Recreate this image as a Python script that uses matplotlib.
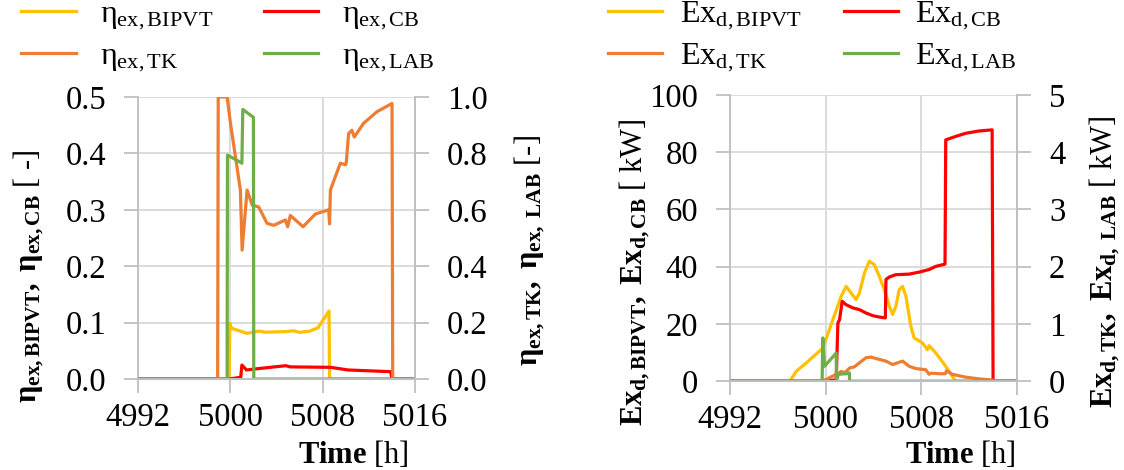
import numpy as np
import matplotlib
matplotlib.use('Agg')
import matplotlib.pyplot as plt

plt.rcParams['font.family'] = ['Liberation Serif', 'DejaVu Serif']
plt.rcParams['mathtext.fontset'] = 'custom'
plt.rcParams['mathtext.rm'] = 'Liberation Serif'
plt.rcParams['mathtext.it'] = 'Liberation Serif:italic'
plt.rcParams['mathtext.bf'] = 'Liberation Serif:bold'

# ---- exergy efficiency (left chart) ----
t_bipvt = [4992, 4999.9, 4999.95, 5000.1, 5001.45, 5002.46, 5003.0, 5004.7, 5005.5, 5006.0,
           5006.9, 5007.6, 5008.55, 5008.6, 5016]
eta_bipvt = [0, 0, 0.099, 0.090, 0.081, 0.085, 0.083, 0.084, 0.0855, 0.0827,
             0.085, 0.091, 0.1205, 0, 0]

t_cb = [4992, 4999.9, 5000.9, 5001.0, 5001.4, 5002.5, 5004.8, 5005.2, 5008.7, 5010.2, 5013.9, 5014.0, 5016]
eta_cb = [0, 0, 0.003, 0.0248, 0.016, 0.0186, 0.0236, 0.0215, 0.0207, 0.016, 0.013, 0, 0]

t_tk = [4992, 4998.9, 4998.95, 4999.72, 5000.01, 5000.87, 5001.02, 5001.45, 5001.89, 5002.46,
        5003.18, 5003.76, 5004.77, 5004.97, 5005.2, 5006.3, 5007.37, 5008.52, 5008.6,
        5008.67, 5009.53, 5010.0, 5010.05, 5010.25, 5010.54, 5010.74, 5011.55, 5012.71,
        5014.01, 5014.07, 5016]
eta_tk = [0, 0, 1.0, 1.0, 0.907, 0.67, 0.457, 0.67, 0.617, 0.61,
          0.552, 0.545, 0.564, 0.54, 0.58, 0.54, 0.585, 0.60, 0.55,
          0.67, 0.765, 0.76, 0.77, 0.871, 0.882, 0.858, 0.907, 0.948,
          0.977, 0, 0]

t_lab = [4992, 4999.72, 4999.75, 5000.6, 5001.0, 5001.08, 5002.0, 5002.03, 5016]
eta_lab = [0, 0, 0.794, 0.775, 0.765, 0.956, 0.928, 0, 0]

# ---- exergy destruction (right chart) ----
t_exb = [4992, 4996.99, 4997.55, 4998.38, 4999.77, 5000.6, 5001.3, 5001.71, 5002.13, 5002.54,
         5002.82, 5003.24, 5003.65, 5004.07, 5004.49, 5004.9, 5005.32, 5005.6, 5005.87, 5006.15,
         5006.43, 5006.71, 5007.12, 5007.4, 5008.09, 5008.51, 5008.65, 5009.2, 5010.04, 5010.59,
         5010.87, 5016]
ex_bipvt = [0, 0, 3.5, 6.4, 11.6, 21.5, 29.7, 33.1, 30.8, 28.5,
            30.8, 37.8, 41.9, 40.7, 36.6, 32.0, 26.2, 23.3, 26.2, 32.0,
            33.1, 29.7, 19.2, 15.1, 13.4, 11.0, 12.4, 9.9, 5.2, 1.7,
            0, 0]

t_excb = [4992, 5000.05, 5000.88, 5001.02, 5001.16, 5001.38, 5001.71, 5002.27, 5002.82, 5003.38,
          5003.93, 5004.49, 5004.99, 5005.04, 5005.32, 5005.87, 5006.98, 5007.82, 5008.37, 5008.65,
          5009.2, 5009.98, 5010.04, 5010.87, 5011.7, 5012.81, 5013.92, 5014.0, 5016]
ex_cb = [0, 0, 0.5, 20.3, 21.5, 27.9, 26.7, 25.6, 25.0, 23.8,
         22.9, 22.4, 22.1, 35.5, 36.4, 37.2, 37.4, 38.1, 38.7, 39.0,
         40.1, 40.9, 84.3, 85.5, 86.6, 87.4, 87.8, 0, 0]

t_extk = [4992, 4999.63, 5000.05, 5000.88, 5001.3, 5001.6, 5002.0, 5002.4, 5002.82, 5003.38,
          5003.8, 5004.49, 5005.04, 5005.6, 5006.0, 5006.43, 5006.98, 5007.54, 5008.37, 5008.65,
          5008.8, 5009.48, 5010.0, 5010.1, 5010.59, 5011.7, 5012.81, 5013.92, 5014.0, 5016]
ex_tk = [0, 0, 0.03, 0.12, 0.17, 0.15, 0.23, 0.25, 0.32, 0.41,
         0.42, 0.38, 0.35, 0.29, 0.32, 0.35, 0.26, 0.22, 0.20, 0.12,
         0.14, 0.13, 0.13, 0.18, 0.12, 0.07, 0.04, 0.02, 0, 0]

t_exlab = [4992, 4999.7, 4999.76, 4999.9, 5000.88, 5000.9, 5001.05, 5001.7, 5001.98, 5002.0, 5016]
ex_lab = [0, 0, 0.756, 0.26, 0.49, 0, 0.12, 0.13, 0.145, 0, 0]

c_yel = '#FFC000'
c_red = '#FF0000'
c_org = '#ED7D31'
c_grn = '#70AD47'
grid_c = '#D9D9D9'
lw = 2.3
fs = 22
tick_fs = 23.5


def style_axes(ax, ax2):
    ax.set_xlim(4992, 5016)
    ax.set_xticks([4992, 5000, 5008, 5016])
    ax.grid(True, color=grid_c, linewidth=1.3)
    ax.set_axisbelow(True)
    for a in (ax, ax2):
        a.spines['top'].set_visible(False)
        for s in ('left', 'right', 'bottom'):
            a.spines[s].set_color('#BFBFBF')
            a.spines[s].set_linewidth(1.3)
        a.tick_params(direction='out', length=10, width=1.3, color='#BFBFBF',
                      labelsize=tick_fs, pad=13)
    ax.tick_params(axis='x', pad=7)
    ax2.spines['left'].set_visible(False)


fig = plt.figure(figsize=(11.24, 4.70), dpi=100)

# left chart
ax1 = fig.add_axes([0.1228, 0.1936, 0.2464, 0.6])
ax1b = ax1.twinx()
l1, = ax1.plot(t_bipvt, eta_bipvt, color=c_yel, lw=lw)
l2, = ax1.plot(t_cb, eta_cb, color=c_red, lw=lw)
l3, = ax1b.plot(t_tk, eta_tk, color=c_org, lw=lw)
l4, = ax1b.plot(t_lab, eta_lab, color=c_grn, lw=lw)
ax1.set_ylim(0, 0.5)
ax1.set_yticks(np.arange(0, 0.51, 0.1))
ax1.yaxis.set_major_formatter('{x:.1f}')
ax1b.set_ylim(0, 1.0)
ax1b.set_yticks(np.arange(0, 1.01, 0.2))
ax1b.yaxis.set_major_formatter('{x:.1f}')
style_axes(ax1, ax1b)

# right chart
ax2 = fig.add_axes([0.6495, 0.189, 0.2553, 0.609])
ax2b = ax2.twinx()
m1, = ax2.plot(t_exb, ex_bipvt, color=c_yel, lw=lw)
m2, = ax2.plot(t_excb, ex_cb, color=c_red, lw=lw)
m3, = ax2b.plot(t_extk, ex_tk, color=c_org, lw=lw)
m4, = ax2b.plot(t_exlab, ex_lab, color=c_grn, lw=lw)
ax2.set_ylim(0, 100)
ax2.set_yticks(range(0, 101, 20))
ax2b.set_ylim(0, 5)
ax2b.set_yticks(range(0, 6))
style_axes(ax2, ax2b)

# legends (order so two columns read row-wise)
leg_kw = dict(ncol=2, frameon=False, fontsize=23, handlelength=1.7,
              labelspacing=0.3, borderaxespad=0, borderpad=0)
fig.legend([l1, l3, l2, l4],
           [r'$\mathrm{η_{ex,BIPVT}}$', r'$\mathrm{η_{ex,TK}}$',
            r'$\mathrm{η_{ex,CB}}$', r'$\mathrm{η_{ex,LAB}}$'],
           loc='upper left', bbox_to_anchor=(0.019, 1.0), columnspacing=1.6,
           handletextpad=0.75, **leg_kw)
fig.legend([m1, m3, m2, m4],
           [r'$\mathrm{Ex_{d,BIPVT}}$', r'$\mathrm{Ex_{d,TK}}$',
            r'$\mathrm{Ex_{d,CB}}$', r'$\mathrm{Ex_{d,LAB}}$'],
           loc='upper left', bbox_to_anchor=(0.541, 1.0), columnspacing=1.3,
           handletextpad=0.55, **leg_kw)

# axis titles
fig.text(0.025, 0.413, r'$\mathbf{η_{ex,BIPVT},\ η_{ex,CB}}$ [ -]', rotation=90,
         ha='center', va='center', fontsize=fs)
fig.text(0.4715, 0.466, r'$\mathbf{η_{ex,TK},\ η_{ex,\ LAB}}$ [-]', rotation=90,
         ha='center', va='center', fontsize=fs)
fig.text(0.565, 0.421, r'$\mathbf{Ex_{d,BIPVT},\ Ex_{d,CB}}$ [ kW]', rotation=90,
         ha='center', va='center', fontsize=fs)
fig.text(0.983, 0.444, r'$\mathbf{Ex_{d,TK},\ Ex_{d,\ LAB}}$ [ kW]', rotation=90,
         ha='center', va='center', fontsize=fs)
fig.text(0.314, 0.032, r'$\mathbf{Time}$ [h]', ha='center', va='center', fontsize=fs)
fig.text(0.854, 0.032, r'$\mathbf{Time}$ [h]', ha='center', va='center', fontsize=fs)

fig.savefig('out.png', dpi=100)
